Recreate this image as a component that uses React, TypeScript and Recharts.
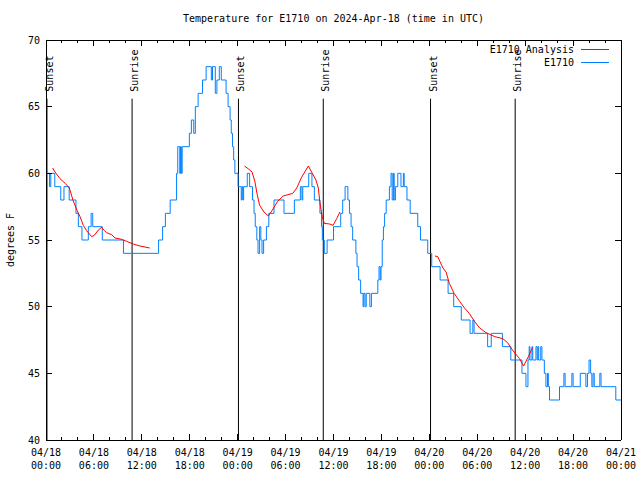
import React from 'react';
import { LineChart, Line, XAxis, YAxis, ReferenceLine } from 'recharts';

// hours since 04/18 00:00 UTC where the reading changes, and the reading (deg F)
const obsHours = [
  0, 0.45, 0.6, 1.1, 1.85, 2.25, 2.9, 3.75, 4.05, 4.5, 5.3, 5.65, 5.85, 7.05, 9.7,
  14.1, 14.6, 14.95, 15.55, 16.35, 16.5, 16.75, 16.85, 16.95, 17.05, 17.95, 18.2, 18.5, 18.7,
  19.05, 19.6, 20.05, 20.7, 20.85, 21.2, 21.4, 21.7, 21.95, 22.55, 22.8, 23.05, 23.2, 23.35,
  23.5, 23.65, 24.05, 24.45, 24.55, 24.65, 24.75, 25.2, 25.5, 25.85, 26.05, 26.2, 26.4, 26.55,
  26.75, 26.9, 27.05, 27.25, 27.6, 27.9, 28.55, 29.8, 31.1, 31.85, 32.05, 32.15, 32.9, 33.3,
  33.6, 34.3, 34.5, 34.6, 34.85, 35.2, 36.0, 36.9, 37.15, 37.45, 37.8, 38.0, 38.2, 38.4, 38.8,
  38.95, 39.15, 39.4, 39.7, 39.8, 39.95, 40.1, 40.55, 40.75, 41.55, 41.7, 41.85, 41.95, 42.1,
  42.25, 42.4, 42.6, 43.0, 43.2, 43.35, 43.5, 43.6, 43.75, 44.05, 44.45, 44.75, 44.85, 45.2,
  45.6, 46.55, 46.9, 47.8, 48.3, 49.35, 50.35, 51.05, 52.0, 53.1, 53.45, 53.6, 55.3, 55.75,
  57.15, 58.2, 59.6, 60.1, 60.35, 60.5, 60.6, 60.85, 60.95, 61.35, 61.5, 61.6, 61.7, 61.95,
  62.1, 62.4, 62.6, 62.8, 62.9, 63.05, 64.3, 64.85, 65.0, 65.85, 66.0, 66.9, 67.6, 67.8, 68.0,
  68.2, 68.35, 68.5, 68.65, 69.35, 69.5, 71.35, 72,
];
const obsTemps = [
  60, 59, 60, 59, 58, 59, 58, 57, 56, 55, 56, 57, 56, 55, 54,
  55, 56, 57, 58, 60, 62, 60, 62, 60, 62, 63, 64, 63, 65,
  66, 67, 68, 67, 68, 66, 67, 68, 67, 66, 65, 64, 63, 62,
  61, 60, 59, 58, 59, 58, 59, 60, 59, 58, 57, 56, 55, 54,
  56, 55, 54, 55, 56, 57, 58, 57, 58, 59, 58, 59, 60, 59,
  58, 57, 56, 55, 54, 55, 56, 57, 58, 59, 58, 57, 56, 55, 54,
  53, 52, 51, 50, 51, 50, 51, 50, 51, 52, 53, 52, 53, 55,
  56, 57, 58, 59, 60, 58, 60, 58, 59, 60, 59, 60, 59, 58,
  57, 56, 55, 54, 53, 52, 51, 50, 49, 48, 49, 48, 47, 48,
  47, 46, 45, 44, 46, 47, 46, 47, 46, 47, 46, 47, 46, 47,
  46, 45, 44, 45, 44, 43, 44, 45, 44, 45, 44, 45, 44, 45, 46,
  45, 44, 45, 44, 45, 44, 43, 43,
];

// analysis curve, three overnight runs (null = gap)
const anaHours = [
  0.83, 1.13, 1.75, 2.4, 2.92, 3.4, 3.9, 4.26, 4.67, 5.09, 5.72, 6.05, 6.55, 6.97, 7.3, 7.59,
  8.22, 8.64, 9.47, 10.1, 10.93, 11.76, 13.0,
  18,
  24.85, 25.3, 25.8, 26.15, 26.45, 26.75, 27.3, 27.85, 28.3, 29.0, 29.7, 30.9, 31.4, 32.0,
  32.85, 33.3, 33.8, 34.1, 34.3, 34.6, 34.85, 35.5, 35.95, 36.4, 36.8,
  42,
  48.7, 49.05, 49.7, 50.1, 50.5, 51.1, 51.8, 52.4, 53.0, 53.65, 54.3, 55.1, 56.2, 57.2, 57.8,
  58.4, 59.3, 59.8, 60.4, 60.9,
];
const anaTemps = [
  60.4, 60.1, 59.6, 59.25, 58.9, 57.95, 57.2, 56.75, 56.1, 55.7, 55.25, 55.35, 55.75, 55.95, 55.7, 55.55,
  55.4, 55.15, 55.05, 54.9, 54.7, 54.55, 54.4,
  null,
  60.55, 60.35, 60.1, 59.4, 58.4, 57.6, 57.1, 56.8, 57.2, 57.9, 58.3, 58.5, 58.9, 59.7,
  60.55, 60.05, 59.5, 58.9, 57.8, 56.7, 56.25, 56.2, 56.1, 56.6, 57.1,
  null,
  53.8, 53.75, 52.9, 52.6, 51.75, 51.0, 50.4, 49.9, 49.5, 48.9, 48.4, 48.05, 47.75, 47.6, 47.3,
  46.75, 46.1, 45.55, 46.25, 46.9,
];

const sunHours = [0.12, 10.78, 24.1, 34.72, 48.15, 58.75];
const sunLabels = ['Sunset', 'Sunrise', 'Sunset', 'Sunrise', 'Sunset', 'Sunrise'];

const xTickHours = [
  0, 2, 4, 6, 8, 10, 12, 14, 16, 18, 20, 22, 24, 26, 28, 30, 32, 34, 36,
  38, 40, 42, 44, 46, 48, 50, 52, 54, 56, 58, 60, 62, 64, 66, 68, 70, 72,
];
const dayLabels = ['04/18', '04/18', '04/18', '04/18', '04/19', '04/19', '04/19', '04/19', '04/20', '04/20', '04/20', '04/20', '04/21'];
const timeLabels = ['00:00', '06:00', '12:00', '18:00', '00:00', '06:00', '12:00', '18:00', '00:00', '06:00', '12:00', '18:00', '00:00'];
const yTicks = [40, 45, 50, 55, 60, 65, 70];

const FONT = '"DejaVu Sans Mono", "Liberation Mono", monospace';
const PLOT_W = 575;
const PLOT_H = 400;
const BLUE = '#0080ff';
const RED = '#ff0000';

const obsData = obsHours.map((t, i) => ({ t, temp: obsTemps[i] }));
const anaData = anaHours.map((t, i) => ({ t, temp: anaTemps[i] }));

const XTick = ({ x, y, payload }: any) => {
  const h = payload.value;
  const major = h % 6 === 0;
  const len = major ? 6 : 3;
  const i = h / 6;
  return (
    <g>
      <line x1={x} y1={y} x2={x} y2={y - len} stroke="#000" shapeRendering="crispEdges" />
      <line x1={x} y1={y - PLOT_H} x2={x} y2={y - PLOT_H + len} stroke="#000" shapeRendering="crispEdges" />
      {major && (
        <text x={x} y={y + 16} textAnchor="middle" fontSize={10} fontFamily={FONT} fill="#000">
          <tspan x={x}>{dayLabels[i]}</tspan>
          <tspan x={x} dy={13}>{timeLabels[i]}</tspan>
        </text>
      )}
    </g>
  );
};

const YTick = ({ x, y, payload }: any) => (
  <g>
    <line x1={x} y1={y} x2={x + 6} y2={y} stroke="#000" shapeRendering="crispEdges" />
    <line x1={x + PLOT_W - 6} y1={y} x2={x + PLOT_W} y2={y} stroke="#000" shapeRendering="crispEdges" />
    <text x={x - 6} y={y} dy="0.35em" textAnchor="end" fontSize={10} fontFamily={FONT} fill="#000">
      {payload.value}
    </text>
  </g>
);

const sunLabel = (name: string) => (props: any) => {
  const vb = props.viewBox || {};
  const x = vb.x + 6;
  const y = vb.y - 7;
  return (
    <text x={x} y={y} transform={`rotate(-90 ${x} ${y})`} fontSize={10} fontFamily={FONT} fill="#000">
      {name}
    </text>
  );
};

const yLabel = (props: any) => {
  const vb = props.viewBox || { x: 0, y: 40, height: 400 };
  const x = vb.x + 14;
  const y = vb.y + vb.height / 2;
  return (
    <text x={x} y={y} transform={`rotate(-90 ${x} ${y})`} textAnchor="middle" fontSize={10} fontFamily={FONT} fill="#000">
      degrees F
    </text>
  );
};

const legendItems = [
  { name: 'E1710 Analysis', color: RED },
  { name: 'E1710', color: BLUE },
];

export default function App() {
  return (
    <div style={{ position: 'absolute', left: 0, top: 0, width: 640, height: 480, background: '#fff' }}>
      <div
        style={{
          position: 'absolute',
          left: 46,
          top: 13,
          width: PLOT_W,
          textAlign: 'center',
          fontFamily: FONT,
          fontSize: 10,
          lineHeight: '12px',
        }}
      >
        Temperature for E1710 on 2024-Apr-18 (time in UTC)
      </div>
      <LineChart width={640} height={480} margin={{ top: 40, right: 19, bottom: 0, left: 0 }}>
        <XAxis
          dataKey="t"
          type="number"
          domain={[0, 72]}
          ticks={xTickHours}
          interval={0}
          allowDataOverflow
          height={40}
          tickSize={0}
          tickMargin={0}
          tickLine={false}
          tick={XTick}
          axisLine={{ stroke: '#000', shapeRendering: 'crispEdges' }}
        />
        <YAxis
          type="number"
          domain={[40, 70]}
          ticks={yTicks}
          interval={0}
          allowDataOverflow
          width={46}
          tickSize={0}
          tickMargin={0}
          tickLine={false}
          tick={YTick}
          axisLine={{ stroke: '#000', shapeRendering: 'crispEdges' }}
          label={yLabel}
        />
        <ReferenceLine y={70} stroke="#000" shapeRendering="crispEdges" />
        <ReferenceLine x={72} stroke="#000" shapeRendering="crispEdges" />
        {sunHours.map((h, i) => (
          <ReferenceLine
            key={`sun-${i}`}
            segment={[{ x: h, y: 40 }, { x: h, y: 65.6 }]}
            stroke="#000"
            label={sunLabel(sunLabels[i])}
          />
        ))}
        <Line
          data={obsData}
          dataKey="temp"
          name="E1710"
          type="stepAfter"
          stroke={BLUE}
          strokeWidth={1}
          dot={false}
          isAnimationActive={false}
        />
        <Line
          data={anaData}
          dataKey="temp"
          name="E1710 Analysis"
          type="linear"
          stroke={RED}
          strokeWidth={1}
          dot={false}
          connectNulls={false}
          isAnimationActive={false}
        />
      </LineChart>
      <div
        style={{
          position: 'absolute',
          top: 43,
          right: 31,
          fontFamily: FONT,
          fontSize: 10,
          lineHeight: '13px',
        }}
      >
        {legendItems.map((item) => (
          <div key={item.name} style={{ display: 'flex', alignItems: 'center', justifyContent: 'flex-end' }}>
            <span>{item.name}</span>
            <span style={{ display: 'inline-block', width: 28, borderTop: `1px solid ${item.color}`, marginLeft: 7 }} />
          </div>
        ))}
      </div>
    </div>
  );
}
